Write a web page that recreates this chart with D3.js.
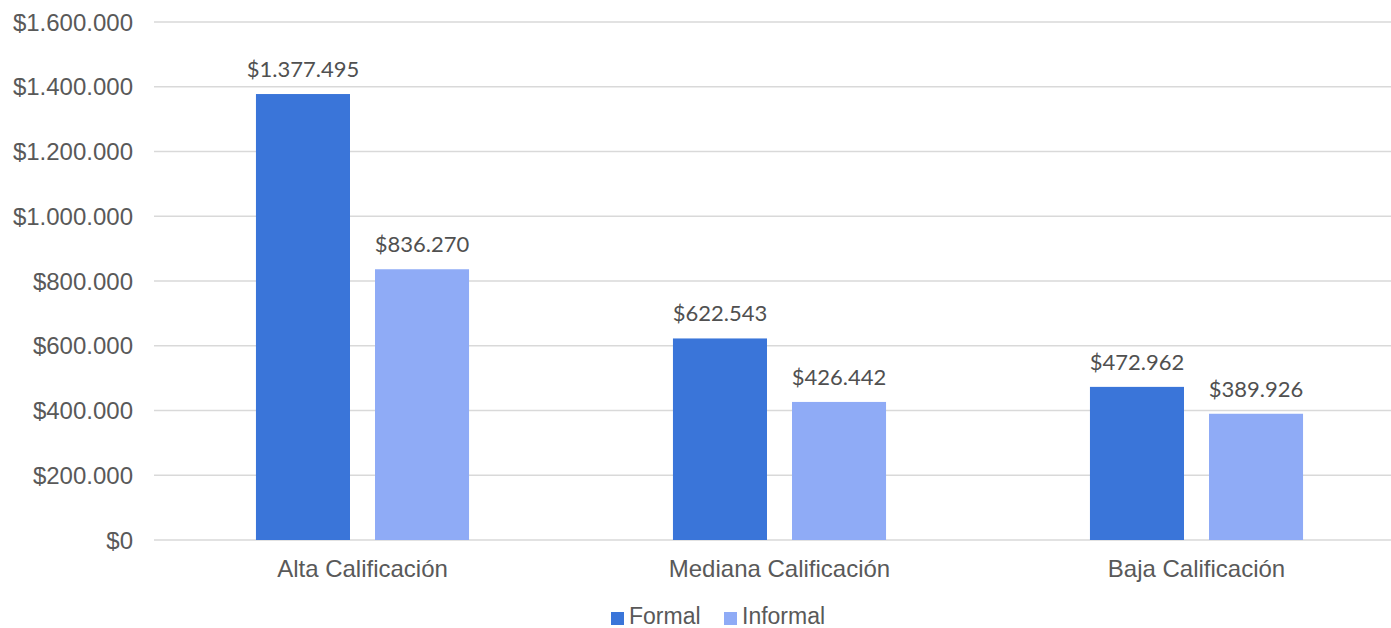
<!DOCTYPE html>
<html>
<head>
<meta charset="utf-8">
<script src="https://cdn.jsdelivr.net/npm/d3@7"></script>
<style>
  body { margin: 0; background: #fff; }
  svg text { font-family: "Liberation Sans", Arial, sans-serif; }
</style>
</head>
<body>
<div id="chart"></div>
<script>
const categorias = ["Alta Calificación", "Mediana Calificación", "Baja Calificación"];
const series = ["Formal", "Informal"];
const formal = [1377495, 622543, 472962];
const informal = [836270, 426442, 389926];
const ticks = [0, 200000, 400000, 600000, 800000, 1000000, 1200000, 1400000, 1600000];
const colores = ["#3a75d9", "#8fabf6"];

const width = 1391;
const height = 628;

const svg = d3.select("#chart")
  .append("svg")
  .attr("width", width)
  .attr("height", height);

// formato con punto de miles
const fmt = v => "$" + d3.format(",")(v).replace(/,/g, ".");

const y = d3.scaleLinear()
  .domain([0, 1600000])
  .range([540, 22]);

const x = d3.scaleBand()
  .domain(categorias)
  .range([154, 1405])
  .paddingInner(0.489)
  .paddingOuter(0.2445);

const xs = d3.scaleBand()
  .domain(series)
  .range([0, x.bandwidth()])
  .paddingInner(0.21)
  .paddingOuter(0);

// lineas de grilla
svg.append("g")
  .selectAll("line")
  .data(ticks)
  .join("line")
  .attr("x1", 154)
  .attr("x2", width)
  .attr("y1", d => y(d))
  .attr("y2", d => y(d))
  .attr("stroke", "#d9d9d9")
  .attr("stroke-width", 1.5);

// etiquetas eje y
svg.append("g")
  .selectAll("text")
  .data(ticks)
  .join("text")
  .attr("x", 133)
  .attr("y", d => y(d))
  .attr("dy", "0.36em")
  .attr("text-anchor", "end")
  .attr("font-size", 24)
  .attr("fill", "#595959")
  .text(d => fmt(d));

const datos = [];
categorias.forEach((c, i) => {
  datos.push({ cat: c, serie: "Formal", valor: formal[i], color: colores[0] });
  datos.push({ cat: c, serie: "Informal", valor: informal[i], color: colores[1] });
});

// barras
svg.append("g")
  .selectAll("rect")
  .data(datos)
  .join("rect")
  .attr("x", d => x(d.cat) + xs(d.serie))
  .attr("width", xs.bandwidth())
  .attr("y", d => y(d.valor))
  .attr("height", d => y(0) - y(d.valor))
  .attr("fill", d => d.color);

// etiquetas de datos
svg.append("g")
  .selectAll("text")
  .data(datos)
  .join("text")
  .attr("x", d => x(d.cat) + xs(d.serie) + xs.bandwidth() / 2)
  .attr("y", d => y(d.valor) - 17)
  .attr("text-anchor", "middle")
  .attr("font-size", 22)
  .attr("fill", "#505050")
  .style("font-family", "Lato, sans-serif")
  .style("font-weight", 400)
  .text(d => fmt(d.valor));

// etiquetas eje x
svg.append("g")
  .selectAll("text")
  .data(categorias)
  .join("text")
  .attr("x", d => x(d) + x.bandwidth() / 2)
  .attr("y", 577)
  .attr("text-anchor", "middle")
  .attr("font-size", 24)
  .attr("fill", "#595959")
  .text(d => d);

// leyenda
const leyenda = svg.append("g");
const posLeyenda = [611, 724];
series.forEach((s, i) => {
  leyenda.append("rect")
    .attr("x", posLeyenda[i])
    .attr("y", 612)
    .attr("width", 13)
    .attr("height", 13)
    .attr("fill", colores[i]);
  leyenda.append("text")
    .attr("x", posLeyenda[i] + 18)
    .attr("y", 624)
    .attr("font-size", 23)
    .attr("fill", "#595959")
    .text(s);
});
</script>
</body>
</html>
